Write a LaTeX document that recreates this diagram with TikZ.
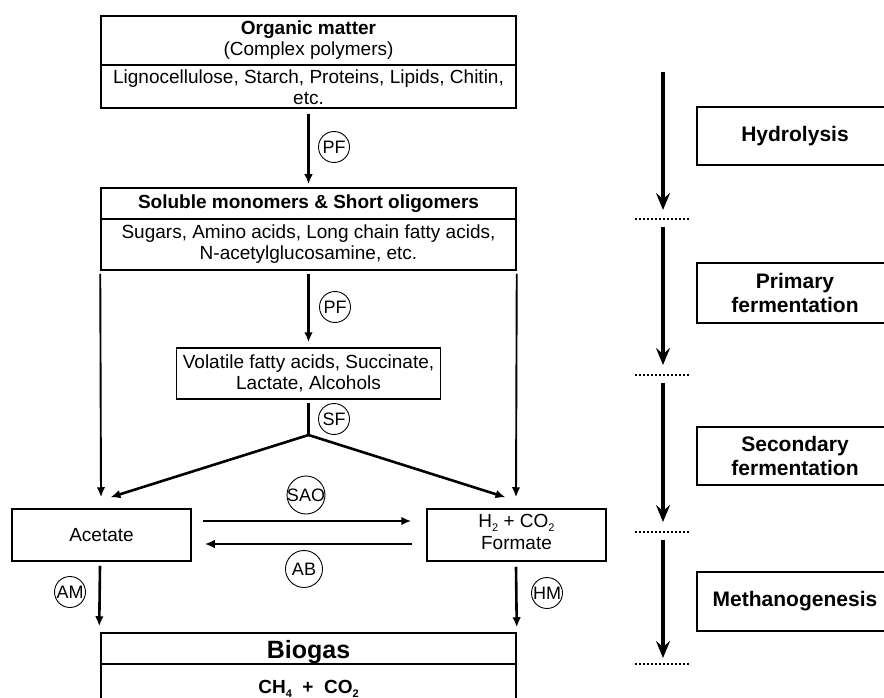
\documentclass[tikz,border=0pt]{standalone}
\usepackage{fontspec}
\setmainfont{Liberation Sans}
\usetikzlibrary{arrows.meta,calc}
\newcommand\lowidx[1]{\raisebox{-0.35ex}{\fontsize{11}{11}\selectfont #1}}
\tikzset{
  box/.style={draw, line width=1.5pt, fill=white, minimum width=415pt, inner sep=0pt,
    align=center, font=\fontsize{19}{21}\selectfont},
  txt/.style={inner sep=0pt, align=center, font=\fontsize{19}{21}\selectfont},
  phase/.style={draw, line width=2.6pt, minimum width=196pt, minimum height=58pt, inner sep=0pt,
    align=center, font=\bfseries\fontsize{21}{24}\selectfont},
  tag/.style={circle, draw, line width=0.9pt, inner sep=0pt, minimum size=31pt,
    font=\fontsize{18}{18}\selectfont},
  flow/.style={line width=2.6pt, -{Latex[length=10pt,width=8.5pt]}},
  side/.style={line width=1.9pt, -{Latex[length=10pt,width=8.5pt]}},
  bigflow/.style={line width=4.4pt, -{Stealth[length=17pt,width=14pt,inset=6pt]}},
  dotline/.style={line width=1.6pt, dash pattern=on 1.6pt off 2.4pt}
}
\begin{document}
\begin{tikzpicture}[x=1pt,y=-1pt]
\clip (0,0) rectangle (884,698);
\fill[white] (0,0) rectangle (884,698);

% substrate and product boxes
\node[box, minimum height=49pt] (omh) at (308.5,40.5) {};
\node[txt] (omht) at (308.5,40) {\textbf{Organic matter}\\(Complex polymers)};
\node[box, minimum height=43pt] (omb) at (308.5,86.5) {};
\node[txt] (ombt) at (308.5,87.5) {Lignocellulose, Starch, Proteins, Lipids, Chitin,\\etc.};
\node[box, minimum height=31pt] (smh) at (308.5,203.5) {\textbf{Soluble monomers \& Short oligomers}};
\node[box, minimum height=51pt] (smb) at (308.5,244.5) {Sugars, Amino acids, Long chain fatty acids,\\N-acetylglucosamine, etc.};
\node[box, minimum width=264pt, minimum height=51pt] (vfa) at (308.5,373.5) {Volatile fatty acids, Succinate,\\Lactate, Alcohols};
\node[box, minimum width=179pt, minimum height=52pt] (ace) at (101.5,535) {Acetate};
\node[box, minimum width=179pt, minimum height=52pt] (frm) at (516.5,535) {};
\node[txt] (frmt) at (516.5,532) {H\lowidx{2} + CO\lowidx{2}\\[1pt]Formate};
\node[box, minimum height=31pt] (bgh) at (308.5,648.5) {};
\node[txt, font=\bfseries\fontsize{25}{28}\selectfont] (bght) at (308.5,652) {Biogas};
\node[box, minimum height=50pt] (bgb) at (308.5,689) {};
\node[txt, font=\bfseries\fontsize{19}{21}\selectfont] (gas) at (308.5,689) {CH\lowidx{4}~~+~~CO\lowidx{2}};

% conversion arrows
\coordinate (fork) at (308.5,435);
\draw[flow] ([yshift=-5pt]omb.south) -- ([yshift=3pt]smh.north);
\draw[flow] ([yshift=-3pt]smb.south) -- ([yshift=5pt]vfa.north);
\draw[line width=2.6pt] ([yshift=-3pt]vfa.south) -- (fork);
\draw[flow] (fork) -- ([xshift=9pt,yshift=11pt]ace.north);
\draw[flow] (fork) -- ([xshift=-11pt,yshift=11pt]frm.north);
\draw[side] ([yshift=-3pt]smb.south west) -- ([xshift=-0.5pt,yshift=11pt]ace.north);
\draw[side] ([yshift=-3pt]smb.south east) -- ([xshift=-0.5pt,yshift=11pt]frm.north);
\draw[flow] ([xshift=11pt,yshift=14pt]ace.east) -- ([xshift=-15pt,yshift=14pt]frm.west);
\draw[flow] ([xshift=-14pt,yshift=-9pt]frm.west) -- ([xshift=13pt,yshift=-9pt]ace.east);
\draw[flow] ([xshift=-1.5pt,yshift=-4pt]ace.south) -- ([xshift=-1pt,yshift=6pt]bgh.north west);
\draw[flow] ([xshift=-0.5pt,yshift=-5pt]frm.south) -- ([yshift=5pt]bgh.north east);

% microbial groups
\node[tag] (pf1) at (334,147) {PF};
\node[tag] (pf2) at (335,307) {PF};
\node[tag] (sf) at (334,419) {SF};
\node[tag, minimum size=38pt, inner sep=-3pt] (sao) at (306,495) {SAO};
\node[tag, minimum size=37pt] (ab) at (304,569) {AB};
\node[tag] (am) at (70,592) {AM};
\node[tag] (hm) at (547,593) {HM};

% process stages
\node[phase] (hyd) at (795,136) {Hydrolysis};
\node[phase, minimum height=60pt] (pri) at (795,293) {Primary\\fermentation};
\node[phase] (sec) at (795,456) {Secondary\\fermentation};
\node[phase, minimum height=59pt] (met) at (795,601.5) {Methanogenesis};

\coordinate (s1) at (663,72);  \coordinate (e1) at (663,210);
\coordinate (s2) at (663,227); \coordinate (e2) at (663,365);
\coordinate (s3) at (663,383); \coordinate (e3) at (663,522);
\coordinate (s4) at (663,540); \coordinate (e4) at (663,658);
\draw[bigflow] (s1) -- (e1);
\draw[bigflow] (s2) -- (e2);
\draw[bigflow] (s3) -- (e3);
\draw[bigflow] (s4) -- (e4);

\coordinate (l1) at (635,219); \coordinate (r1) at (689,219);
\coordinate (l2) at (635,375); \coordinate (r2) at (689,375);
\coordinate (l3) at (635,532); \coordinate (r3) at (689,532);
\coordinate (l4) at (635,664); \coordinate (r4) at (689,664);
\draw[dotline] (l1) -- (r1);
\draw[dotline] (l2) -- (r2);
\draw[dotline] (l3) -- (r3);
\draw[dotline] (l4) -- (r4);
\end{tikzpicture}
\end{document}
